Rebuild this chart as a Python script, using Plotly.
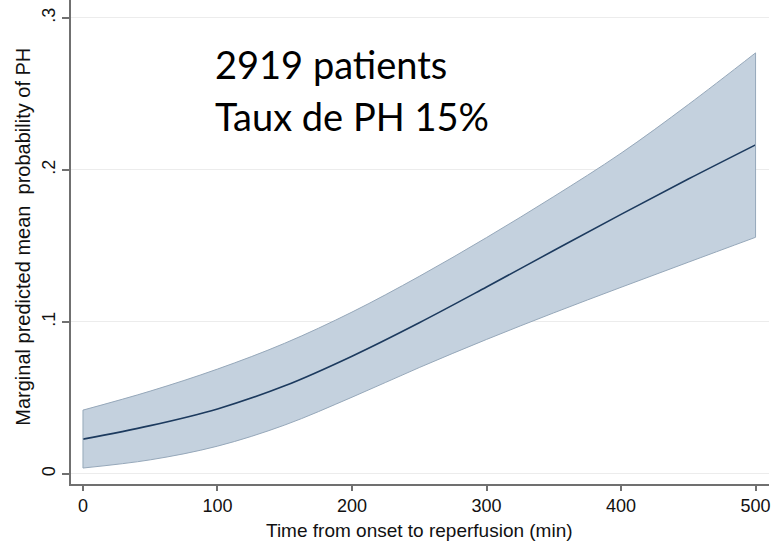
import plotly.graph_objects as go

# Data
time_min = [0, 50, 100, 150, 200, 250, 300, 350, 400, 450, 500]
pred_mean = [0.0229, 0.0318, 0.0428, 0.0580, 0.0775, 0.0995, 0.1230, 0.1470, 0.1708, 0.1940, 0.2165]
ci_low = [0.0039, 0.0093, 0.0183, 0.0322, 0.0505, 0.0700, 0.0885, 0.1060, 0.1228, 0.1393, 0.1557]
ci_high = [0.0420, 0.0545, 0.0690, 0.0860, 0.1065, 0.1300, 0.1555, 0.1825, 0.2110, 0.2430, 0.2770]

x_ticks = [0, 100, 200, 300, 400, 500]
y_ticks = [0, 0.1, 0.2, 0.3]
y_tick_labels = ["0", ".1", ".2", ".3"]

note_line1 = "2919 patients"
note_line2 = "Taux de PH 15%"
x_title = "Time from onset to reperfusion (min)"
y_title = "Marginal predicted mean  probability of PH"

band_fill = "rgba(196,209,222,1)"
band_edge = "rgb(150,168,186)"
mean_color = "#1c3a5e"
axis_color = "#707070"
text_font = "Liberation Sans, Arial, sans-serif"

fig = go.Figure()
fig.add_trace(go.Scatter(
    x=time_min, y=ci_high, mode="lines",
    line=dict(color=band_edge, width=1, shape="spline", smoothing=1.0),
    hoverinfo="skip", showlegend=False))
fig.add_trace(go.Scatter(
    x=time_min, y=ci_low, mode="lines", fill="tonexty", fillcolor=band_fill,
    line=dict(color=band_edge, width=1, shape="spline", smoothing=1.0),
    hoverinfo="skip", showlegend=False))
fig.add_trace(go.Scatter(
    x=time_min, y=pred_mean, mode="lines",
    line=dict(color=mean_color, width=1.6, shape="spline", smoothing=1.0),
    showlegend=False))
# vertical band edges at both ends
for xi, lo_v, hi_v in [(time_min[0], ci_low[0], ci_high[0]), (time_min[-1], ci_low[-1], ci_high[-1])]:
    fig.add_trace(go.Scatter(x=[xi, xi], y=[lo_v, hi_v], mode="lines",
                             line=dict(color=band_edge, width=1),
                             hoverinfo="skip", showlegend=False))

tick_font = dict(family=text_font, size=18, color="#111")

fig.update_layout(
    width=771, height=544,
    margin=dict(l=71, r=0, t=0, b=60),
    paper_bgcolor="white", plot_bgcolor="white",
    xaxis=dict(range=[-8.9, 510], tickvals=x_ticks, ticks="outside", ticklen=5,
               tickcolor=axis_color, tickwidth=1.5, ticklabeloverflow="allow",
               showline=True, linecolor=axis_color, linewidth=1.5,
               showgrid=False, zeroline=False, tickfont=tick_font),
    yaxis=dict(range=[-0.0066, 0.3118], tickvals=y_ticks, ticktext=y_tick_labels,
               tickangle=-90, ticks="outside", ticklen=7,
               tickcolor=axis_color, tickwidth=1.5,
               showline=True, linecolor=axis_color, linewidth=1.5,
               showgrid=True, gridcolor="#ececec", gridwidth=1,
               zeroline=False, tickfont=tick_font),
    annotations=[
        dict(text=x_title, xref="paper", yref="paper", x=(420 - 71) / 700,
             y=-(543 - 484) / 484, xanchor="center", yanchor="bottom", showarrow=False,
             font=dict(family=text_font, size=19, color="#111")),
        dict(text=y_title, xref="paper", yref="paper", x=-0.068, y=0.51,
             textangle=-90, xanchor="center", yanchor="middle", showarrow=False,
             font=dict(family=text_font, size=20, color="#111")),
        dict(text=note_line1, xref="paper", yref="paper", x=0.204, y=(484 - 64.5) / 484,
             xanchor="left", yanchor="middle", showarrow=False,
             font=dict(family="Lato, sans-serif", size=38, color="#000")),
        dict(text=note_line2, xref="paper", yref="paper", x=0.204, y=(484 - 115.5) / 484,
             xanchor="left", yanchor="middle", showarrow=False,
             font=dict(family="Lato, sans-serif", size=38, color="#000")),
    ],
)

fig.write_html("out.html")
